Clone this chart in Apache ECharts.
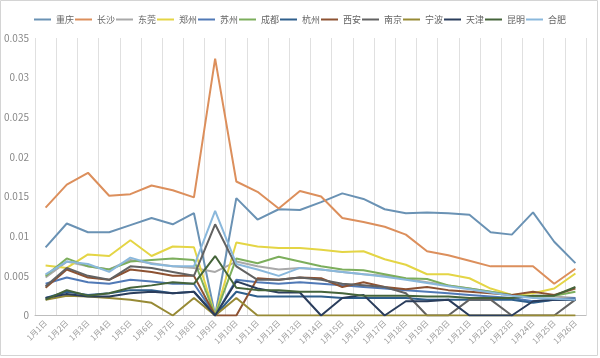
<!DOCTYPE html>
<html><head><meta charset="utf-8">
<script src="https://cdn.jsdelivr.net/npm/echarts@6/dist/echarts.min.js"></script>
<style>html,body{margin:0;padding:0;background:#fff}#c{width:600px;height:358px}</style>
</head><body><div id="c"></div>
<script>
const days = ["1月1日","1月2日","1月3日","1月4日","1月5日","1月6日","1月7日","1月8日","1月9日","1月10日","1月11日","1月12日","1月13日","1月14日","1月15日","1月16日","1月17日","1月18日","1月19日","1月20日","1月21日","1月22日","1月23日","1月24日","1月25日","1月26日"];
const yTicks = [0,0.005,0.01,0.015,0.02,0.025,0.03,0.035];
const chongqing = [0.0086,0.0116,0.0105,0.0105,0.0114,0.0123,0.0115,0.0129,0,0.0148,0.0121,0.0134,0.0133,0.0143,0.0154,0.0147,0.0134,0.0129,0.0130,0.0129,0.0127,0.0105,0.0102,0.0130,0.0093,0.0066];
const changsha = [0.0136,0.0165,0.0180,0.0151,0.0153,0.0164,0.0158,0.0149,0.0324,0.0169,0.0156,0.0135,0.0157,0.0150,0.0123,0.0118,0.0112,0.0102,0.0081,0.0076,0.0069,0.0062,0.0062,0.0062,0.0040,0.0059];
const dongguan = [0.0048,0.0068,0.0062,0.0058,0.0070,0.0066,0.0062,0.0060,0.0055,0.0068,0.0062,0.0058,0.0060,0.0058,0.0055,0.0052,0.0050,0.0046,0.0042,0.0038,0.0034,0.0030,0.0026,0.0024,0.0024,0.0022];
const zhengzhou = [0.0063,0.0060,0.0077,0.0075,0.0095,0.0075,0.0087,0.0086,0,0.0092,0.0087,0.0085,0.0085,0.0083,0.0080,0.0081,0.0071,0.0064,0.0052,0.0052,0.0047,0.0034,0.0026,0.0028,0.0034,0.0053];
const suzhou = [0.0040,0.0048,0.0042,0.0040,0.0045,0.0043,0.0040,0.0040,0,0.0045,0.0042,0.0040,0.0042,0.0040,0.0038,0.0036,0.0034,0.0032,0.0030,0.0028,0.0026,0.0024,0.0022,0.0018,0.0020,0.0022];
const chengdu = [0.0050,0.0072,0.0062,0.0058,0.0068,0.0070,0.0072,0.0070,0,0.0072,0.0066,0.0074,0.0068,0.0062,0.0058,0.0057,0.0052,0.0047,0.0046,0.0038,0.0034,0.0030,0.0026,0.0024,0.0025,0.0030];
const hangzhou = [0.0022,0.0030,0.0026,0.0028,0.0032,0.0032,0.0028,0.0030,0,0.0030,0.0024,0.0024,0.0024,0.0024,0.0022,0.0022,0.0022,0.0022,0.0020,0.0020,0.0020,0.0020,0.0020,0.0016,0.0020,0.0020];
const xian = [0.0035,0.0058,0.0048,0.0045,0.0058,0.0055,0.0050,0.0050,0,0,0.0047,0.0045,0.0048,0.0047,0.0036,0.0042,0.0036,0.0033,0.0036,0.0032,0.0030,0.0028,0.0026,0.0030,0.0026,0.0034];
const nanjing = [0.0037,0.0060,0.0050,0.0045,0.0062,0.0060,0.0055,0.0050,0.0115,0.0062,0.0045,0.0045,0.0048,0.0045,0.0040,0.0038,0.0036,0.0028,0,0,0.0020,0.0020,0,0,0,0.0020];
const ningbo = [0.0020,0.0025,0.0024,0.0022,0.0020,0.0016,0,0.0022,0,0.0022,0,0,0,0,0,0,0,0,0,0,0,0,0,0,0,0];
const tianjin = [0.0022,0.0027,0.0024,0.0024,0.0028,0.0030,0.0028,0.0030,0,0.0043,0.0034,0.0029,0.0029,0,0.0022,0.0026,0,0.0018,0.0018,0.0020,0,0,0,0.0018,0.0020,0.0020];
const kunming = [0.0020,0.0032,0.0025,0.0028,0.0035,0.0038,0.0042,0.0040,0.0075,0.0035,0.0032,0.0032,0.0030,0.0030,0.0028,0.0025,0.0025,0.0025,0.0024,0.0024,0.0022,0.0022,0.0022,0.0025,0.0025,0.0036];
const hefei = [0.0052,0.0068,0.0065,0.0055,0.0073,0.0065,0.0062,0.0062,0.0132,0.0065,0.0058,0.0050,0.0060,0.0058,0.0055,0.0052,0.0049,0.0045,0.0041,0.0037,0.0033,0.0029,0.0025,0.0022,0.0021,0.0020];

const names = ["重庆","长沙","东莞","郑州","苏州","成都","杭州","西安","南京","宁波","天津","昆明","合肥"];
const datas = [chongqing,changsha,dongguan,zhengzhou,suzhou,chengdu,hangzhou,xian,nanjing,ningbo,tianjin,kunming,hefei];
const colors = ["#6a92b4","#dc8f5c","#a9a9a9","#e4d545","#5079b6","#7cae5c","#2f5f8c","#8d5232","#626262","#978a35","#2a3d5c","#45643a","#8ab8dc"];

const chart = echarts.init(document.getElementById('c'));
chart.setOption({
  animation:false,
  textStyle:{fontFamily:'"Noto Sans CJK SC", "Noto Sans", sans-serif'},
  color: colors,
  graphic:[{type:'rect',shape:{x:0.5,y:0.5,width:597,height:355},style:{fill:'none',stroke:'#d4d4d4',lineWidth:1}}],
  legend:{top:10,left:'center',icon:'rect',itemWidth:17,itemHeight:2,itemGap:1,
    textStyle:{fontSize:9,color:'#666'},data:names},
  grid:{left:35,right:14,top:38,bottom:42.5,containLabel:false},
  xAxis:{type:'category',data:days,boundaryGap:true,
    axisLine:{lineStyle:{color:'#bdbdbd'}},axisTick:{show:false},
    splitLine:{show:true,lineStyle:{color:'#e0e0e0'}},
    axisLabel:{rotate:45,fontSize:8,color:'#999',margin:6,interval:0}},
  yAxis:{type:'value',min:0,max:0.035,interval:0.005,
    axisLine:{show:false},axisTick:{show:false},splitLine:{show:false},
    axisLabel:{fontSize:10,color:'#888',margin:6,formatter:v=>String(+v.toFixed(3))}},
  series: names.map((n,i)=>({name:n,type:'line',data:datas[i],symbol:'none',
    lineStyle:{width:2,color:colors[i]},itemStyle:{color:colors[i]}}))
});
</script></body></html>
